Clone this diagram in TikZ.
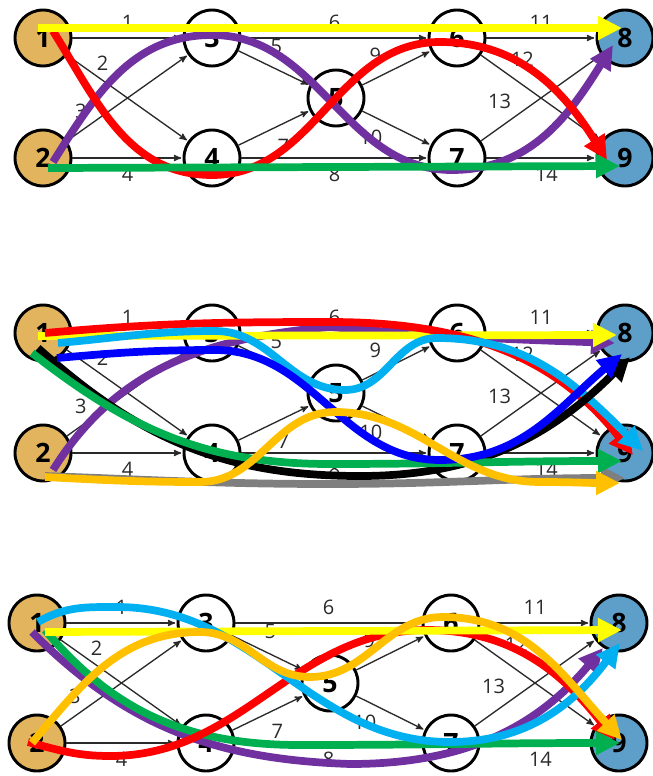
\documentclass[tikz,border=0pt]{standalone}
\usepackage{fontspec}
\setmainfont{Open Sans}
\usepackage{tikz}
\usetikzlibrary{arrows,arrows.meta,automata}
\usetikzlibrary{positioning,calc}

\definecolor{nodeorange}{HTML}{E3B45E}
\definecolor{nodeblue}{HTML}{5E9FCA}
\definecolor{edgegray}{HTML}{2A2A2A}
\definecolor{flowyellow}{HTML}{FFFF00}
\definecolor{flowred}{HTML}{FF0000}
\definecolor{flowgreen}{HTML}{00B050}
\definecolor{flowpurple}{HTML}{7030A0}
\definecolor{flowcyan}{HTML}{00B0F0}
\definecolor{flowblue}{HTML}{0000FF}
\definecolor{floworange}{HTML}{FFC000}
\definecolor{flowgrey}{HTML}{7F7F7F}

\begin{document}
\begin{tikzpicture}[->,>=stealth',shorten >=1pt,auto,x=0.75pt,y=0.75pt]
            % node and path styles
            \tikzstyle{every state}=[draw=black,line width=2.2pt,minimum size=42pt,inner sep=0pt,text=black,font=\fontsize{20pt}{20pt}\selectfont\bfseries]
            \tikzstyle{source}=[state,fill=nodeorange]
            \tikzstyle{sink}=[state,fill=nodeblue]
            \tikzstyle{inner}=[state,fill=white]
            \tikzstyle{lbl}=[font=\fontsize{15pt}{15pt}\selectfont,text=edgegray,inner sep=6pt]
            \tikzstyle{flow}=[line width=5.8pt,shorten >=0pt,-{Triangle[width=17pt,length=18pt]}]

            \useasboundingbox (0,0) rectangle (653,-776);

            % the same network, three times
            \foreach \p/\dx/\dy in {a/0/0,b/0/-295,c/-6/-585} {
              \begin{scope}[shift={(\dx,\dy)}]
                \node[source] (\p1) at (43,-38) {1};
                \node[source] (\p2) at (43,-158) {2};
                \node[inner] (\p3) at (212,-38) {3};
                \node[inner] (\p4) at (212,-158) {4};
                \node[inner] (\p5) at (336,-98) {5};
                \node[inner] (\p6) at (457,-38) {6};
                \node[inner] (\p7) at (457,-158) {7};
                \node[sink] (\p8) at (625,-38) {8};
                \node[sink] (\p9) at (625,-158) {9};

                \path[draw=edgegray,line width=1pt]
                (\p1) edge node[lbl] {1} (\p3)
                      edge node[lbl,pos=0.22,inner sep=2pt] {2} (\p4)
                (\p2) edge node[lbl,pos=0.2,inner sep=3pt] {3} (\p3)
                      edge node[lbl,swap] {4} (\p4)
                (\p3) edge node[lbl,pos=0.33] {5} (\p5)
                      edge node[lbl] {6} (\p6)
                (\p4) edge node[lbl,swap,pos=0.43] {7} (\p5)
                      edge node[lbl,swap] {8} (\p7)
                (\p5) edge node[lbl,pos=0.4] {9} (\p6)
                      edge node[lbl,swap,pos=0.38,inner sep=4pt] {10} (\p7)
                (\p6) edge node[lbl] {11} (\p8)
                      edge node[lbl,pos=0.2,inner sep=4pt] {12} (\p9)
                (\p7) edge node[lbl,pos=0.3,inner sep=4pt] {13} (\p8)
                      edge node[lbl,swap,pos=0.55] {14} (\p9);
              \end{scope}
            }

            % top: four paths
            \draw[flow,flowpurple] ($(a2)+(10,-4)$) to[out=58,in=180] (212,-35) to[out=0,in=180] (452,-170) to[out=0,in=-122] ($(a8)+(-12,-7)$);
            \draw[flow,flowred] ($(a1)+(10,7)$) to[out=-58,in=180] (212,-175) to[out=0,in=180] (440,-42) to[out=0,in=122] ($(a9)+(-18,-2)$);
            \draw[flow,flowgreen] ($(a2)+(5,-10)$) -- ($(a9)+(-5,-8)$);
            \draw[flow,flowyellow] ($(a1)+(-5,10)$) -- ($(a8)+(-3,10)$);

            % middle: nine paths
            \draw[flow,flowgrey] ($(b2)+(2,-23)$) to[out=-2,in=180] (330,-484) to[out=0,in=180] ($(b9)+(0,-25)$);
            \draw[flow,flowpurple] ($(b2)+(10,-17)$) to[out=58,in=185] (330,-327) to[out=-5,in=178] ($(b8)+(-10,-10)$);
            \draw[flow,flowyellow] ($(b1)+(-5,-3)$) -- ($(b8)+(-8,-2)$);
            \draw[flow,flowred] ($(b1)+(2,0)$) to[out=5,in=180] (330,-322) to[out=0,in=128] ($(b9)+(8,-2)$);
            \draw[flow,flowcyan] ($(b1)+(15,-10)$) to[out=5,in=180] (215,-331) to[out=0,in=180] (345,-390) to[out=0,in=180] (437,-338) to[out=0,in=135] ($(b9)+(18,2)$);
            \draw[flow,black] ($(b1)+(-5,-15)$) to[out=-42,in=180] (360,-476) to[out=0,in=-135] ($(b8)+(5,-24)$);
            \draw[flow,flowgreen] ($(b1)+(-11,-20)$) to[out=-38,in=180] (330,-464) to[out=0,in=180] ($(b9)+(-3,-8)$);
            \draw[flow,flowblue] ($(b1)+(14,-25)$) to[out=5,in=180] (215,-350) to[out=0,in=180] (440,-460) to[out=0,in=-140] ($(b8)+(-3,-21)$);
            \draw[flow,floworange] ($(b2)+(2,-24)$) to[out=-3,in=180] (200,-482) to[out=0,in=180] (335,-412) to[out=0,in=180] (540,-482) to[out=0,in=180] ($(b9)+(-5,-30)$);

            % bottom: six paths
            \draw[flow,flowpurple] ($(c1)+(-5,-9)$) to[out=-45,in=178] (350,-764) to[out=0,in=-130] ($(c8)+(-16,-25)$);
            \draw[flow,flowgreen] ($(c1)+(8,-7)$) to[out=-50,in=180] (300,-745) to[out=0,in=180] ($(c9)+(1,0)$);
            \draw[flow,flowred] ($(c2)+(-9,1)$) to[out=-15,in=180] (110,-756) to[out=0,in=180] (427,-630) to[out=0,in=128] ($(c9)+(-4,3)$);
            \draw[flow,flowyellow] ($(c1)+(8,-9)$) -- ($(c8)+(3,-7)$);
            \draw[flow,flowcyan] ($(c1)+(1,1)$) to[out=30,in=180] (117,-607) to[out=0,in=180] (450,-742) to[out=0,in=-127] ($(c8)+(1,-20)$);
            \draw[flow,floworange] ($(c2)+(-5,0)$) to[out=50,in=180] (200,-632) to[out=0,in=180] (310,-677) to[out=0,in=180] (443,-617) to[out=0,in=133] ($(c9)+(3,3)$);
        \end{tikzpicture}
\end{document}
